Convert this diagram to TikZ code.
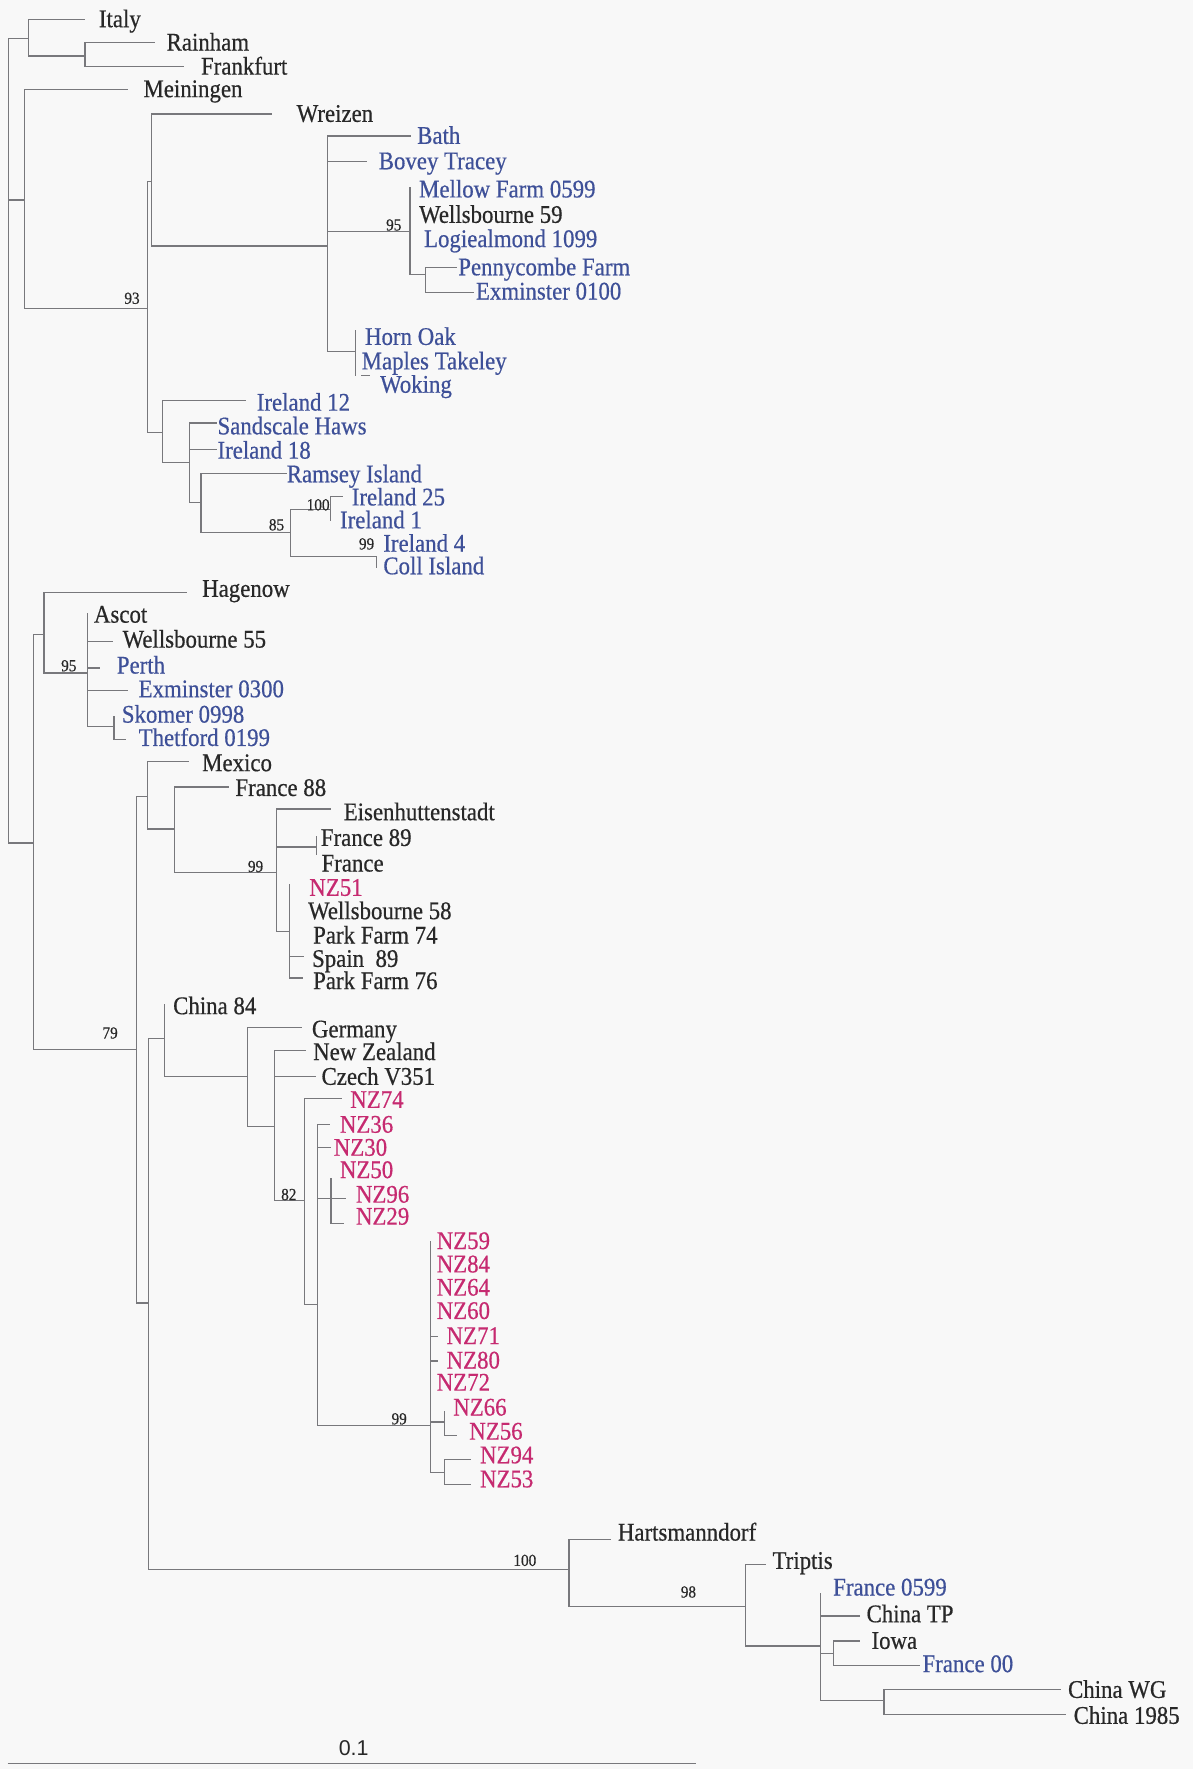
\documentclass[tikz,border=0pt]{standalone}
\usepackage{fontspec}
\setmainfont{Liberation Serif}[FakeStretch=0.9,FakeBold=0.5]
\newfontfamily\sansf{Liberation Sans}
\definecolor{bgc}{RGB}{248,248,248}
\definecolor{lg}{RGB}{120,120,124}
\definecolor{tk}{RGB}{40,40,40}
\definecolor{tb}{RGB}{62,80,152}
\definecolor{tm}{RGB}{198,42,112}
\newcommand\lf[5]{\node[leaf,text=#4] (#1) at (#2,#3) {#5};}
\newcommand\sv[4]{\node[supp] (#1) at (#2,#3) {#4};}
\begin{document}
\begin{tikzpicture}[x=1pt,y=-1pt,
  br/.style={draw=lg,line width=1.1pt},
  leaf/.style={anchor=base west,inner sep=0pt,yshift=-7pt,font=\fontsize{22.5}{24}\selectfont},
  supp/.style={anchor=base,inner sep=0pt,yshift=-5pt,font=\fontsize{15}{16}\selectfont,text=tk}]
\fill[bgc] (0,0) rectangle (1057,1568);
\useasboundingbox (0,0) rectangle (1057,1568);
% ---------- coordinates ----------
\coordinate (R) at (7.5,390);
\coordinate (nIt) at (25.4,34);
\coordinate (tItaly) at (75.3,17.1);
\coordinate (nRa) at (75.3,49.6);
\coordinate (tRain) at (137.3,37.8);
\coordinate (tFrank) at (162.8,59.1);
\coordinate (nMe) at (22,177.2);
\coordinate (tMein) at (113.6,79.1);
\coordinate (n93) at (130.5,273.2);
\coordinate (nWr) at (134.6,161);
\coordinate (tWrei) at (240.7,101);
\coordinate (nBa) at (290.6,218);
\coordinate (tBath) at (364.5,120.5);
\coordinate (tBovey) at (325.5,143);
\coordinate (n95) at (363.5,205.3);
\coordinate (tMellow) at (363.5,165.4);
\coordinate (nPe) at (377,243.6);
\coordinate (tPenny) at (405,236.8);
\coordinate (tExm1) at (420,259);
\coordinate (nHo) at (315,311.6);
\coordinate (tHoT) at (315,292.4);
\coordinate (tHoB) at (315,333.7);
\coordinate (wkA) at (320.4,332.5);
\coordinate (wkB) at (327.8,332.5);
\coordinate (nIr) at (144.1,383.3);
\coordinate (tIre12) at (218,355);
\coordinate (nSa) at (168.3,409.9);
\coordinate (tSand) at (192.6,375);
\coordinate (tIre18) at (192.6,398.1);
\coordinate (nRam) at (178.1,445.3);
\coordinate (tRam) at (254,419.4);
\coordinate (n85) at (257.5,471.9);
\coordinate (n100) at (293,451.8);
\coordinate (tIre25) at (304.2,440);
\coordinate (tIre1) at (293,462.2);
\coordinate (n99a) at (333.7,493.2);
\coordinate (tColl) at (333.7,503.5);
\coordinate (n79) at (29.8,747.2);
\coordinate (nHa) at (39,562.6);
\coordinate (tHag) at (166.1,525.1);
\coordinate (nAs) at (77.3,596.6);
\coordinate (tAsc) at (77.3,543.4);
\coordinate (tW55) at (100,568.5);
\coordinate (tPerth) at (88.2,592.1);
\coordinate (tExm3) at (113.6,611.9);
\coordinate (nSk) at (101,643.8);
\coordinate (tSk) at (101,635);
\coordinate (tThet) at (111.9,655.6);
\coordinate (n121) at (121,930.3);
\coordinate (nMx) at (130.5,705.8);
\coordinate (tMex) at (167.8,674.8);
\coordinate (nF88) at (155,734.8);
\coordinate (tF88) at (203.4,697.6);
\coordinate (n99b) at (244.8,773.2);
\coordinate (tEis) at (293.3,717);
\coordinate (nF89) at (280.7,750.7);
\coordinate (tF89a) at (280.7,741.3);
\coordinate (tF89b) at (280.7,757.5);
\coordinate (nNZ51) at (256.7,825.4);
\coordinate (tNZ51) at (256.7,783.2);
\coordinate (tSpain) at (269.5,847.6);
\coordinate (tPF76) at (269,866.8);
\coordinate (n132) at (131.6,1155);
\coordinate (nCh) at (145.8,920.8);
\coordinate (tCh84) at (145.8,889.5);
\coordinate (nGe) at (219.7,954.5);
\coordinate (tGer) at (267.9,910.5);
\coordinate (nNZc) at (243.4,998.2);
\coordinate (tNewZ) at (271.2,930.9);
\coordinate (tCz) at (279.7,953.9);
\coordinate (n82) at (269.6,1063.8);
\coordinate (tNZ74) at (303.5,974);
\coordinate (nNZ36) at (281.4,1156.2);
\coordinate (tNZ36) at (292.3,996.7);
\coordinate (tNZ30) at (293.3,1017.4);
\coordinate (nNZ50) at (293.3,1062.6);
\coordinate (tNZ50) at (293.3,1044);
\coordinate (tNZ96) at (306.8,1062.6);
\coordinate (tNZ29) at (305.2,1084.5);
\coordinate (n99c) at (381.6,1263.4);
\coordinate (tNZ59) at (381.6,1100.1);
\coordinate (tNZ71) at (388.3,1184.3);
\coordinate (tNZ80) at (388.3,1206.4);
\coordinate (nNZ66) at (394.3,1260.5);
\coordinate (tNZ66) at (394.3,1250.7);
\coordinate (tNZ56) at (405.2,1272.3);
\coordinate (nNZ94) at (394.3,1305.3);
\coordinate (tNZ94) at (417.9,1293.5);
\coordinate (tNZ53) at (417.9,1315.7);
\coordinate (nHa2) at (504.4,1391);
\coordinate (tHart) at (541.4,1364.4);
\coordinate (nTr) at (660.8,1423.7);
\coordinate (tTrip) at (679.3,1386.6);
\coordinate (nFr) at (727.1,1459);
\coordinate (tFr99) at (727.1,1412.3);
\coordinate (tChTP) at (762,1432.3);
\coordinate (nIo) at (738.9,1465.4);
\coordinate (tIowa) at (762,1454.5);
\coordinate (tFr00) at (815.7,1476);
\coordinate (nCW) at (783.5,1507.6);
\coordinate (tCWG) at (940.6,1497.3);
\coordinate (tC85) at (945,1519.4);
\coordinate (sbA) at (6.7,1563);
\coordinate (sbB) at (617,1563);
% ---------- branches ----------
\draw[br] (R) |- (nIt); \draw[br] (R) |- (nMe); \draw[br] (R) |- (n79);
\draw[br] (nIt) |- (tItaly); \draw[br] (nIt) |- (nRa);
\draw[br] (nRa) |- (tRain); \draw[br] (nRa) |- (tFrank);
\draw[br] (nMe) |- (tMein); \draw[br] (nMe) |- (n93);
\draw[br] (n93) |- (nWr); \draw[br] (n93) |- (nIr);
\draw[br] (nWr) |- (tWrei); \draw[br] (nWr) |- (nBa);
\draw[br] (nBa) |- (tBath); \draw[br] (nBa) |- (tBovey); \draw[br] (nBa) |- (n95); \draw[br] (nBa) |- (nHo);
\draw[br] (n95) -- (tMellow); \draw[br] (n95) |- (nPe);
\draw[br] (nPe) |- (tPenny); \draw[br] (nPe) |- (tExm1);
\draw[br] (nHo) -- (tHoT); \draw[br] (nHo) -- (tHoB); \draw[br] (wkA) -- (wkB);
\draw[br] (nIr) |- (tIre12); \draw[br] (nIr) |- (nSa);
\draw[br] (nSa) |- (tSand); \draw[br] (nSa) |- (tIre18); \draw[br] (nSa) |- (nRam);
\draw[br] (nRam) |- (tRam); \draw[br] (nRam) |- (n85);
\draw[br] (n85) |- (n100); \draw[br] (n85) |- (n99a);
\draw[br] (n100) |- (tIre25); \draw[br] (n100) -- (tIre1);
\draw[br] (n99a) -- (tColl);
\draw[br] (n79) |- (nHa); \draw[br] (n79) |- (n121);
\draw[br] (nHa) |- (tHag); \draw[br] (nHa) |- (nAs);
\draw[br] (nAs) -- (tAsc); \draw[br] (nAs) |- (tW55); \draw[br] (nAs) |- (tPerth); \draw[br] (nAs) |- (tExm3); \draw[br] (nAs) |- (nSk);
\draw[br] (nSk) -- (tSk); \draw[br] (nSk) |- (tThet);
\draw[br] (n121) |- (nMx); \draw[br] (n121) |- (n132);
\draw[br] (nMx) |- (tMex); \draw[br] (nMx) |- (nF88);
\draw[br] (nF88) |- (tF88); \draw[br] (nF88) |- (n99b);
\draw[br] (n99b) |- (tEis); \draw[br] (n99b) |- (nF89); \draw[br] (n99b) |- (nNZ51);
\draw[br] (nF89) -- (tF89a); \draw[br] (nF89) -- (tF89b);
\draw[br] (nNZ51) -- (tNZ51); \draw[br] (nNZ51) |- (tSpain); \draw[br] (nNZ51) |- (tPF76);
\draw[br] (n132) |- (nCh); \draw[br] (n132) |- (nHa2);
\draw[br] (nCh) -- (tCh84); \draw[br] (nCh) |- (nGe);
\draw[br] (nGe) |- (tGer); \draw[br] (nGe) |- (nNZc);
\draw[br] (nNZc) |- (tNewZ); \draw[br] (nNZc) |- (tCz); \draw[br] (nNZc) |- (n82);
\draw[br] (n82) |- (tNZ74); \draw[br] (n82) |- (nNZ36);
\draw[br] (nNZ36) |- (tNZ36); \draw[br] (nNZ36) |- (tNZ30); \draw[br] (nNZ36) |- (nNZ50); \draw[br] (nNZ36) |- (n99c);
\draw[br] (nNZ50) -- (tNZ50); \draw[br] (nNZ50) -- (tNZ96); \draw[br] (nNZ50) |- (tNZ29);
\draw[br] (n99c) -- (tNZ59); \draw[br] (n99c) |- (tNZ71); \draw[br] (n99c) |- (tNZ80); \draw[br] (n99c) |- (nNZ66); \draw[br] (n99c) |- (nNZ94);
\draw[br] (nNZ66) -- (tNZ66); \draw[br] (nNZ66) |- (tNZ56);
\draw[br] (nNZ94) |- (tNZ94); \draw[br] (nNZ94) |- (tNZ53);
\draw[br] (nHa2) |- (tHart); \draw[br] (nHa2) |- (nTr);
\draw[br] (nTr) |- (tTrip); \draw[br] (nTr) |- (nFr);
\draw[br] (nFr) -- (tFr99); \draw[br] (nFr) |- (tChTP); \draw[br] (nFr) |- (nIo); \draw[br] (nFr) |- (nCW);
\draw[br] (nIo) |- (tIowa); \draw[br] (nIo) |- (tFr00);
\draw[br] (nCW) |- (tCWG); \draw[br] (nCW) |- (tC85);
\draw[br] (sbA) -- (sbB);
% ---------- leaf labels ----------
\lf{lItaly}{87.5}{17.1}{tk}{Italy}
\lf{lRain}{147.5}{37.8}{tk}{Rainham}
\lf{lFrank}{178}{59.1}{tk}{Frankfurt}
\lf{lMein}{127}{79.1}{tk}{Meiningen}
\lf{lWrei}{262.8}{101}{tk}{Wreizen}
\lf{lBath}{369.6}{120.5}{tb}{Bath}
\lf{lBovey}{335.5}{143}{tb}{Bovey Tracey}
\lf{lMellow}{371.3}{168}{tb}{Mellow Farm 0599}
\lf{lW59}{371.3}{190.5}{tk}{Wellsbourne 59}
\lf{lLog}{375.7}{212}{tb}{Logiealmond 1099}
\lf{lPenny}{406}{237}{tb}{Pennycombe Farm}
\lf{lExm1}{421.7}{258.5}{tb}{Exminster 0100}
\lf{lHorn}{323.4}{298.7}{tb}{Horn Oak}
\lf{lMaples}{320.4}{320.4}{tb}{Maples Takeley}
\lf{lWok}{336.7}{341.1}{tb}{Woking}
\lf{lIre12}{227.4}{357}{tb}{Ireland 12}
\lf{lSand}{192.6}{378}{tb}{Sandscale Haws}
\lf{lIre18}{192.6}{399.5}{tb}{Ireland 18}
\lf{lRam}{254}{420.5}{tb}{Ramsey Island}
\lf{lIre25}{311.6}{441}{tb}{Ireland 25}
\lf{lIre1}{301.2}{461.3}{tb}{Ireland 1}
\lf{lIre4}{339.6}{482}{tb}{Ireland 4}
\lf{lColl}{339.6}{502}{tb}{Coll Island}
\lf{lHag}{179}{522}{tk}{Hagenow}
\lf{lAsc}{83.1}{544.9}{tk}{Ascot}
\lf{lW55}{108.5}{567}{tk}{Wellsbourne 55}
\lf{lPerth}{103.4}{590}{tb}{Perth}
\lf{lExm3}{122.7}{611}{tb}{Exminster 0300}
\lf{lSk}{107.8}{633.5}{tb}{Skomer 0998}
\lf{lThet}{122.7}{654.2}{tb}{Thetford 0199}
\lf{lMex}{179}{676.5}{tk}{Mexico}
\lf{lF88}{208.5}{698.5}{tk}{France 88}
\lf{lEis}{304.5}{720}{tk}{Eisenhuttenstadt}
\lf{lF89}{284.2}{742.8}{tk}{France 89}
\lf{lFr}{284.8}{765.5}{tk}{France}
\lf{lNZ51}{274}{787}{tm}{NZ51}
\lf{lW58}{272.9}{807.7}{tk}{Wellsbourne 58}
\lf{lPF74}{277.4}{829.3}{tk}{Park Farm 74}
\lf{lSpain}{276.4}{850}{tk}{Spain\ \ 89}
\lf{lPF76}{277.4}{869.7}{tk}{Park Farm 76}
\lf{lCh84}{153.3}{891.9}{tk}{China 84}
\lf{lGer}{276.3}{912.5}{tk}{Germany}
\lf{lNewZ}{277.4}{932.6}{tk}{New Zealand}
\lf{lCz}{284.8}{954.5}{tk}{Czech V351}
\lf{lNZ74}{310.3}{975}{tm}{NZ74}
\lf{lNZ36}{301.1}{997}{tm}{NZ36}
\lf{lNZ30}{295.7}{1017.4}{tm}{NZ30}
\lf{lNZ50}{301.1}{1037.2}{tm}{NZ50}
\lf{lNZ96}{315.3}{1059}{tm}{NZ96}
\lf{lNZ29}{315.3}{1078.5}{tm}{NZ29}
\lf{lNZ59}{386.9}{1100.1}{tm}{NZ59}
\lf{lNZ84}{386.9}{1120.8}{tm}{NZ84}
\lf{lNZ64}{386.9}{1141.4}{tm}{NZ64}
\lf{lNZ60}{386.9}{1162.1}{tm}{NZ60}
\lf{lNZ71}{395.7}{1184.3}{tm}{NZ71}
\lf{lNZ80}{395.7}{1206}{tm}{NZ80}
\lf{lNZ72}{386.9}{1225.6}{tm}{NZ72}
\lf{lNZ66}{401.6}{1247.7}{tm}{NZ66}
\lf{lNZ56}{415.8}{1269}{tm}{NZ56}
\lf{lNZ94}{425.3}{1290}{tm}{NZ94}
\lf{lNZ53}{425.3}{1311.3}{tm}{NZ53}
\lf{lHart}{547.5}{1358.5}{tk}{Hartsmanndorf}
\lf{lTrip}{684.6}{1383.6}{tk}{Triptis}
\lf{lFr99}{738.3}{1407.2}{tb}{France 0599}
\lf{lChTP}{767.9}{1430.9}{tk}{China TP}
\lf{lIowa}{772.3}{1454.5}{tk}{Iowa}
\lf{lFr00}{817.5}{1475.1}{tb}{France 00}
\lf{lCWG}{946.5}{1497.9}{tk}{China WG}
\lf{lC85}{951.5}{1520.9}{tk}{China 1985}
% ---------- support values ----------
\sv{s93}{117}{264.3}{93}
\sv{s95a}{349}{199.3}{95}
\sv{s85}{245.1}{465.1}{85}
\sv{s100a}{282}{447.4}{100}
\sv{s99a}{324.9}{482}{99}
\sv{s95b}{61}{590}{95}
\sv{s99b}{226.5}{767.9}{99}
\sv{s79}{97.6}{915.5}{79}
\sv{s82}{256}{1058.7}{82}
\sv{s99c}{353.8}{1257.5}{99}
\sv{s100b}{465.2}{1383}{100}
\sv{s98}{610.2}{1411}{98}
% ---------- scale ----------
\node[anchor=base,inner sep=0pt,yshift=-7pt,font=\sansf\fontsize{19}{20}\selectfont,text=tk] (scl) at (313.5,1549) {0.1};
\end{tikzpicture}
\end{document}
